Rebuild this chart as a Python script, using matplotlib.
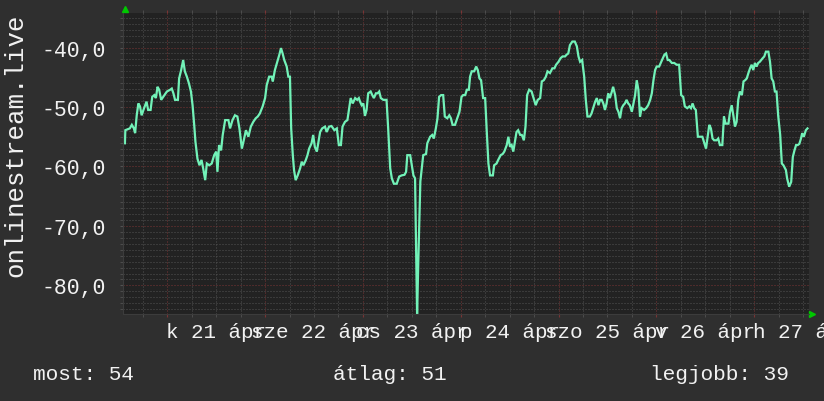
import matplotlib
matplotlib.use("Agg")
import matplotlib.pyplot as plt
from matplotlib.transforms import blended_transform_factory

# ---------------- data ----------------
series_name = "onlinestream.live"
# hours relative to 21 Apr 00:00
hours = [-10.4,-10.3,-9.2,-8.7,-8.2,-7.9,-7.5,-7.1,-6.7,-6.3,
         -5.7,-5.1,-4.7,-4.1,-3.7,-3.2,-2.8,-2.4,-2.0,-1.5,
         -1.0,-0.1,0.7,1.1,1.5,1.9,2.6,2.9,3.4,3.9,
         4.3,4.8,5.3,5.8,6.2,6.6,6.9,7.4,7.9,8.4,
         8.8,9.3,9.7,10.3,10.9,11.5,12.0,12.3,12.7,13.2,
         13.6,14.2,15.0,15.4,16.0,16.6,17.2,17.7,18.3,18.7,
         19.3,19.9,20.5,21.1,21.7,22.2,22.7,23.4,24.0,24.4,
         25.0,25.6,25.9,26.4,27.0,27.5,27.9,28.3,28.7,29.3,
         29.7,30.1,30.4,30.8,31.1,31.5,32.0,32.6,33.0,33.4,
         34.0,34.4,34.8,35.4,35.8,36.2,36.7,37.1,37.5,38.0,
         38.7,39.1,39.7,40.3,41.0,41.6,42.1,42.6,43.0,43.6,
         44.2,44.7,45.0,45.5,46.1,46.6,47.0,47.3,47.7,48.1,
         48.5,48.9,49.3,49.9,50.3,50.7,51.2,51.6,52.0,52.4,
         53.0,53.8,54.2,54.7,55.1,55.6,56.3,56.9,57.5,58.2,
         58.6,58.9,59.6,60.0,60.4,60.8,61.3,61.6,62.1,62.8,
         63.5,63.8,64.5,65.0,65.4,65.9,66.3,66.7,67.2,67.7,
         68.1,68.7,69.2,69.6,70.0,70.6,71.0,71.7,72.2,72.6,
         73.1,73.5,74.0,74.3,74.7,75.3,75.8,76.2,76.6,77.0,
         77.5,78.0,78.4,78.8,79.2,79.9,80.2,80.8,81.2,81.8,
         82.3,82.7,83.3,83.7,84.1,84.5,84.9,85.3,85.7,86.1,
         86.6,87.0,87.5,87.9,88.3,88.8,89.4,90.0,90.4,90.9,
         91.5,91.9,92.4,92.9,93.3,93.9,94.5,95.0,95.4,96.0,
         96.5,97.0,97.6,98.0,98.4,98.8,99.4,100.0,100.5,100.9,
         101.3,101.8,102.3,102.7,103.1,103.7,104.1,104.5,105.0,105.4,
         105.8,106.2,106.6,107.0,107.4,107.8,108.2,108.6,109.1,109.4,
         109.9,110.3,110.7,111.1,111.5,111.9,112.3,112.7,113.1,113.5,
         114.0,114.4,114.8,115.2,115.6,116.0,116.4,117.0,117.5,118.0,
         118.5,118.9,119.3,119.7,120.1,120.7,121.2,121.6,122.0,122.4,
         122.8,123.2,123.8,124.4,125.0,125.6,126.1,126.6,127.0,127.6,
         128.1,128.5,128.9,129.3,129.7,130.2,131.3,131.8,132.2,132.6,
         133.0,133.4,133.8,134.2,134.8,135.2,135.6,136.2,136.6,137.0,
         137.7,138.1,138.5,138.9,139.3,139.7,140.1,140.5,141.0,141.4,
         141.8,142.2,142.6,143.0,143.4,143.8,144.2,144.6,145.0,145.4,
         146.1,146.5,146.9,147.5,147.9,148.3,148.7,149.1,149.5,149.9,
         150.4,150.8,151.2,151.8,152.1,152.6,153.1,153.5,153.9,154.3,
         154.7,155.1,155.5,155.8,156.2,156.7,157.1]
values = [-56.1,-53.9,-53.6,-53.0,-53.6,-54.4,-51.4,-49.4,-49.9,-51.4,
          -50.2,-49.1,-50.5,-50.5,-48.3,-48.0,-48.5,-46.6,-47.1,-48.8,
          -48.3,-47.4,-47.1,-46.9,-47.7,-48.8,-48.8,-45.2,-43.8,-42.1,
          -44.0,-44.9,-46.0,-47.4,-49.7,-53.0,-55.8,-58.7,-59.8,-58.9,
          -60.3,-62.3,-59.5,-59.8,-59.5,-58.1,-57.5,-60.9,-56.4,-57.3,
          -54.7,-52.2,-52.2,-53.6,-52.2,-51.4,-51.6,-53.6,-57.0,-55.8,
          -53.9,-55.0,-53.3,-52.5,-51.9,-51.6,-51.1,-49.9,-48.5,-46.3,
          -44.9,-44.9,-45.7,-43.8,-42.4,-41.2,-40.1,-41.0,-42.1,-43.2,
          -44.9,-44.9,-53.6,-58.1,-60.6,-62.3,-61.5,-60.3,-59.2,-59.8,
          -58.9,-58.1,-57.0,-56.1,-54.7,-56.7,-57.5,-55.8,-54.2,-53.6,
          -53.3,-54.2,-53.3,-53.2,-53.9,-53.6,-56.4,-56.4,-53.3,-52.5,
          -52.2,-49.9,-48.5,-49.4,-48.5,-48.8,-48.5,-49.1,-49.7,-49.4,
          -51.5,-50.5,-47.7,-47.4,-48.0,-48.5,-47.7,-47.7,-47.4,-48.5,
          -48.8,-48.8,-53.6,-60.3,-62.0,-62.9,-62.9,-61.7,-61.5,-61.4,
          -60.9,-58.1,-58.1,-59.8,-61.5,-62.0,-85.0,-75.8,-62.5,-58.1,
          -57.9,-56.1,-55.0,-54.7,-55.3,-53.6,-51.9,-48.3,-48.0,-48.0,
          -51.6,-51.9,-51.4,-51.9,-53.0,-53.0,-52.2,-50.8,-48.3,-48.0,
          -48.0,-47.1,-47.1,-44.9,-44.0,-44.0,-43.2,-43.8,-45.2,-45.5,
          -48.5,-48.5,-54.2,-59.5,-61.5,-61.5,-59.8,-59.5,-58.9,-58.1,
          -57.9,-57.5,-56.4,-55.0,-56.7,-56.4,-57.5,-55.8,-54.2,-53.9,
          -54.7,-54.7,-55.6,-53.3,-48.0,-47.1,-47.4,-48.8,-49.7,-48.8,
          -48.5,-45.7,-45.5,-44.9,-44.0,-44.3,-43.5,-43.5,-42.9,-42.4,
          -41.8,-41.5,-41.5,-41.2,-41.0,-39.6,-39.0,-39.0,-39.8,-41.5,
          -42.4,-42.1,-44.9,-48.8,-51.6,-51.6,-51.1,-50.2,-49.1,-48.5,
          -49.7,-48.8,-48.8,-49.4,-50.5,-49.4,-47.7,-48.5,-47.4,-46.6,
          -48.0,-50.2,-50.8,-51.9,-50.2,-49.7,-49.4,-48.8,-49.4,-49.7,
          -50.8,-49.4,-48.0,-45.5,-47.1,-51.6,-50.2,-50.5,-50.2,-49.7,
          -48.8,-47.7,-45.5,-43.8,-43.2,-43.2,-42.4,-41.8,-41.2,-41.0,
          -42.1,-42.1,-42.6,-42.6,-42.9,-42.9,-48.0,-48.3,-49.9,-50.2,
          -49.9,-50.2,-49.4,-50.2,-50.5,-55.0,-55.0,-56.1,-57.0,-55.0,
          -53.0,-53.6,-55.3,-55.6,-55.6,-55.3,-56.4,-56.4,-51.6,-52.8,
          -52.8,-50.8,-49.7,-51.4,-53.3,-52.5,-48.8,-47.4,-48.0,-45.7,
          -45.5,-45.2,-44.3,-43.5,-42.9,-43.8,-42.6,-43.2,-42.6,-42.4,
          -41.8,-41.5,-40.7,-40.7,-42.4,-45.2,-45.7,-47.4,-47.4,-51.4,
          -54.7,-59.5,-59.8,-60.6,-62.0,-63.4,-62.6,-58.4,-57.3,-56.4,
          -56.4,-56.2,-55.3,-54.4,-55.0,-53.9,-53.6]

day_labels = ["k 21 ápr", "sze 22 ápr", "cs 23 ápr", "p 24 ápr",
              "szo 25 ápr", "v 26 ápr", "h 27 ápr"]
label_hours = [12, 36, 60, 84, 108, 132, 156]
midnight_hours = [0, 24, 48, 72, 96, 120, 144]
y_ticks = [-80, -70, -60, -50, -40]
y_tick_labels = ["-80,0", "-70,0", "-60,0", "-50,0", "-40,0"]
stat_names = ["most", "átlag", "legjobb"]
stat_values = [54, 51, 39]

# ---------------- style ----------------
W, H = 824, 402
BG = "#2f2f2f"
PLOT_BG = "#222222"
MINOR = "#525252"
MAJOR = "#7a3434"
LINE = "#72f2b8"
TXT = "#f2f2f2"
FONT = ["Liberation Mono", "DejaVu Sans Mono"]

fig = plt.figure(figsize=(W / 100, H / 100), dpi=100, facecolor=BG)
L, R, T, B = 123, 809, 14, 315
ax = fig.add_axes([L / W, 1 - B / H, (R - L) / W, (B - T) / H])
ax.set_facecolor(PLOT_BG)
ax.set_xlim(-10.87, 157.47)
ax.set_ylim(-84.8, -34.2)

# grid
ax.set_yticks(y_ticks)
ax.set_yticks(range(-84, -34), minor=True)
ax.set_xticks(midnight_hours)
ax.set_xticks([h for h in range(-6, 158, 6) if h % 24 != 0], minor=True)
dot = (0, (1, 2))
ax.grid(which="minor", color=MINOR, linestyle=dot, linewidth=0.72)
ax.grid(which="major", color=MAJOR, linestyle=dot, linewidth=0.72)
ax.set_axisbelow(True)

ax.set_yticklabels(y_tick_labels, fontfamily=FONT, fontsize=15.5, color=TXT)
ax.set_xticklabels([])
ax.tick_params(axis="y", which="both", length=2, color=MINOR, pad=10)
ax.tick_params(axis="x", which="minor", length=2, color=MINOR, top=True)
ax.tick_params(axis="x", which="major", length=2, color=MAJOR, top=True)

for s in ["top", "right"]:
    ax.spines[s].set_visible(False)
for s in ["left", "bottom"]:
    ax.spines[s].set_color("#3c3c3c")
    ax.spines[s].set_linewidth(0.8)

ax.plot(hours, values, color=LINE, linewidth=1.6, solid_joinstyle="miter")

# day labels centred at noon
trans = blended_transform_factory(ax.transData, ax.transAxes)
for h, lab in zip(label_hours, day_labels):
    ax.text(h, -0.025, lab, transform=trans, ha="center", va="top",
            fontfamily=FONT, fontsize=15, color=TXT, clip_on=False)

# axis arrows
ax.plot([0.003], [1.012], transform=ax.transAxes, marker="^", markersize=4.5,
        color="#00c800", clip_on=False, linestyle="none")
ax.plot([1.004], [0.0], transform=ax.transAxes, marker=">", markersize=4.5,
        color="#00c800", clip_on=False, linestyle="none")

# y axis title
fig.text(15 / W, 1 - 145 / H, series_name, rotation=90, ha="center",
         va="center", fontfamily=FONT, fontsize=18.5, color=TXT)

# bottom statistics
stat_x = [33, 333, 650]
for x, n, v in zip(stat_x, stat_names, stat_values):
    fig.text(x / W, 1 - 375 / H, f"{n}: {v}", ha="left", va="center",
             fontfamily=FONT, fontsize=15.2, color=TXT)

fig.savefig("out.png", dpi=100, facecolor=BG)
